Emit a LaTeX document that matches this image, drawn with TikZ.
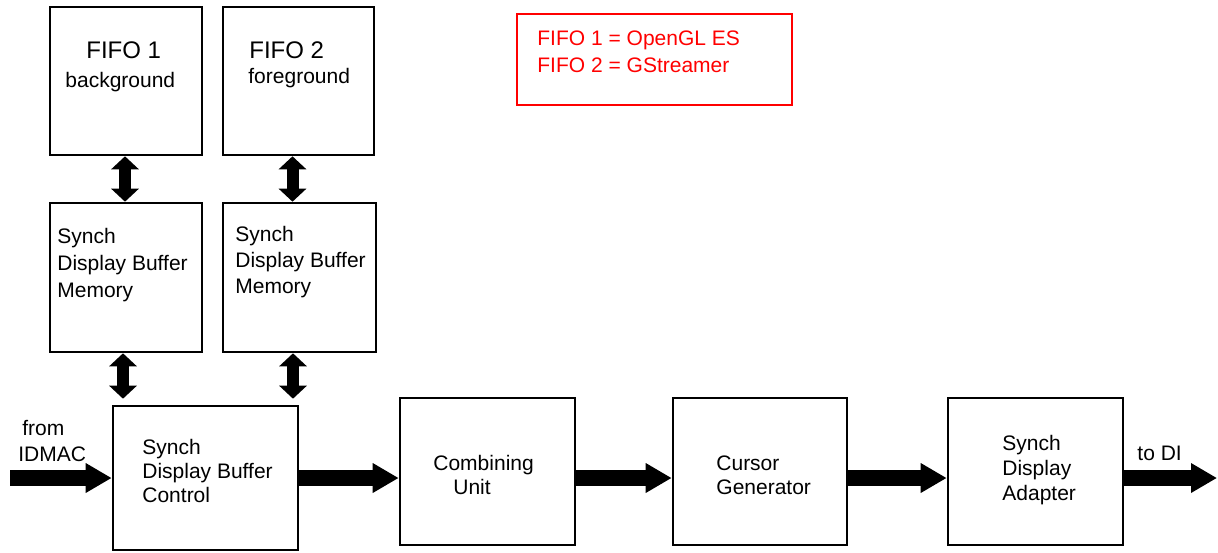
\documentclass[tikz,border=0pt]{standalone}
\usepackage{fontspec}
\setmainfont{Liberation Sans}
\usetikzlibrary{arrows.meta}

\begin{document}
\begin{tikzpicture}[x=0.5pt,y=-0.5pt,
        blk/.style={draw, line width=1.3pt, inner sep=0pt},
        txt/.style={anchor=west, inner sep=0pt, align=left, font=\fontsize{10.5}{13}\selectfont},
        fat/.style={line width=8pt, -{Triangle[length=13pt,width=14pt]}},
        dbl/.style={line width=6pt, {Triangle[length=6.5pt,width=13.5pt]}-{Triangle[length=6.5pt,width=13.5pt]}}]
        \useasboundingbox (0,0) rectangle (1218,552);

        % 上面两列: FIFO 和缓冲存储器
        \node[blk, minimum width=76pt, minimum height=74pt] (fifoA) at (126,81) {};
        \node[blk, minimum width=75.5pt, minimum height=74pt] (fifoB) at (298.5,81) {};
        \node[blk, minimum width=76pt, minimum height=74.5pt] (memA) at (126,277.5) {};
        \node[blk, minimum width=76.5pt, minimum height=74.5pt] (memB) at (299.5,277.5) {};

        % 下面一排处理单元
        \node[blk, minimum width=92.5pt, minimum height=72pt] (ctrl) at (205.5,478) {};
        \node[blk, minimum width=87.5pt, minimum height=73.5pt] (comb) at (487.5,471.5) {};
        \node[blk, minimum width=87pt, minimum height=73.5pt] (cur) at (760,471.5) {};
        \node[blk, minimum width=87.5pt, minimum height=73.5pt] (adp) at (1035.5,471.5) {};

        % 红色说明框
        \node[draw=red, line width=1pt, minimum width=137.5pt, minimum height=45.5pt] (note) at (654.5,59.5) {};
        \node[txt, text=red, font=\fontsize{10.5}{13.5}\selectfont] (noteTxt) at (537,51.5) {FIFO 1 = OpenGL ES\\FIFO 2 = GStreamer};

        % 文字
        \node[txt, font=\fontsize{12}{14}\selectfont] (fifoAtxt) at (86,50) {FIFO 1};
        \node[txt] (fifoAsub) at (65,82) {background};
        \node[txt, font=\fontsize{12}{14}\selectfont] (fifoBtxt) at (249,50) {FIFO 2};
        \node[txt] (fifoBsub) at (248,78) {foreground};
        \node[txt, font=\fontsize{10.5}{13.5}\selectfont] (memAtxt) at (57,265.5) {Synch\\Display Buffer\\Memory};
        \node[txt] (memBtxt) at (235,262) {Synch\\Display Buffer\\Memory};
        \node[txt, font=\fontsize{10.5}{12}\selectfont] (ctrlTxt) at (142,471) {Synch\\Display Buffer\\Control};
        \node[txt, font=\fontsize{10.5}{12}\selectfont] (combTxt) at (433,475) {Combining\\\hspace{10pt}Unit};
        \node[txt, font=\fontsize{10.5}{12}\selectfont] (curTxt) at (716,475) {Cursor\\Generator};
        \node[txt, font=\fontsize{10.5}{12.5}\selectfont] (adpTxt) at (1002,470) {Synch\\Display\\Adapter};
        \node[txt] (inTxt) at (18,441) {\hspace{2pt}from\\IDMAC};
        \node[txt] (outTxt) at (1137,453) {to DI};

        % 双向箭头
        \coordinate (a1) at ([xshift=-0.5pt]fifoA.south);
        \coordinate (b1) at ([xshift=-3pt]fifoB.south);
        \coordinate (a2) at ([xshift=-1.5pt]memA.south);
        \coordinate (b2) at ([xshift=-3.25pt]memB.south);
        \draw[dbl] (a1) -- (a1 |- memA.north);
        \draw[dbl] (b1) -- (b1 |- memB.north);
        \draw[dbl, shorten >=3pt] (a2) -- (a2 |- ctrl.north);
        \draw[dbl, shorten >=3pt] (b2) -- (b2 |- ctrl.north);

        % 数据流箭头
        \coordinate (in) at (10,478);
        \coordinate (out) at (1217,478);
        \draw[fat] (in) -- (in -| ctrl.west);
        \draw[fat] (ctrl.east) -- (ctrl.east -| comb.west);
        \draw[fat] (ctrl.east -| comb.east) -- (ctrl.east -| cur.west);
        \draw[fat] (ctrl.east -| cur.east) -- (ctrl.east -| adp.west);
        \draw[fat] (ctrl.east -| adp.east) -- (out);
    \end{tikzpicture}
\end{document}
